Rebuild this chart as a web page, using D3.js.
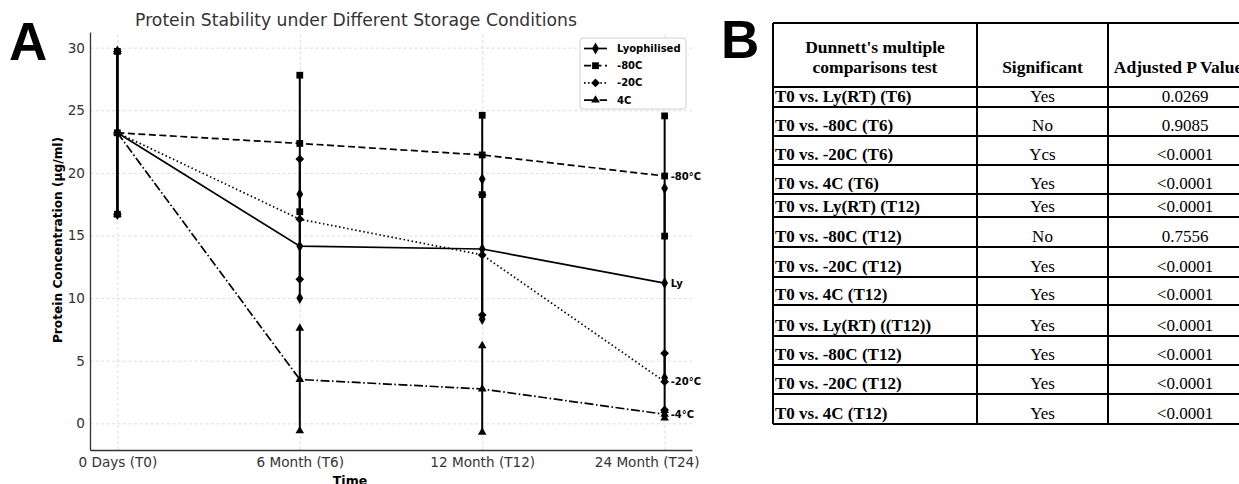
<!DOCTYPE html>
<html>
<head>
<meta charset="utf-8">
<script src="https://cdn.jsdelivr.net/npm/d3@7"></script>
<style>
  body { margin: 0; background: #fff; }
  svg { display: block; }
  .tick text { fill: #333; }
</style>
</head>
<body>
<script>
// panel A data
const timeLabels = ['0 Days (T0)', '6 Month (T6)', '12 Month (T12)', '24 Month (T24)'];
const timeIdx = [0, 1, 2, 3];
const yTicks = [0, 5, 10, 15, 20, 25, 30];

const seriesNames = ['Lyophilised', '-80C', '-20C', '4C'];
const endLabels = ['Ly', '-80°C', '-20°C', '-4°C'];
const lyoMean = [23.2, 14.15, 13.92, 11.2];
const lyoErr = [6.5, 4.15, 5.59, 7.57];
const m80Mean = [23.2, 22.35, 21.43, 19.75];
const m80Err = [6.5, 5.45, 3.17, 4.8];
const m20Mean = [23.2, 16.3, 13.45, 3.33];
const m20Err = [6.5, 4.8, 4.8, 2.26];
const c4Mean = [23.2, 3.5, 2.74, 0.72];
const c4Err = [6.5, 4.1, 3.45, 0.3];

// panel B data
const headCols = [["Dunnett's multiple", 'comparisons test'], ['Significant'], ['Adjusted P Value']];
const comparisons = ['T0 vs. Ly(RT) (T6)', 'T0 vs. -80C (T6)', 'T0 vs. -20C (T6)', 'T0 vs. 4C (T6)',
  'T0 vs. Ly(RT) (T12)', 'T0 vs. -80C (T12)', 'T0 vs. -20C (T12)', 'T0 vs. 4C (T12)',
  'T0 vs. Ly(RT) ((T12))', 'T0 vs. -80C (T12)', 'T0 vs. -20C (T12)', 'T0 vs. 4C (T12)'];
const significant = ['Yes', 'No', 'Ycs', 'Yes', 'Yes', 'No', 'Yes', 'Yes', 'Yes', 'Yes', 'Yes', 'Yes'];
const pValues = ['0.0269', '0.9085', '<0.0001', '<0.0001', '<0.0001', '0.7556', '<0.0001',
  '<0.0001', '<0.0001', '<0.0001', '<0.0001', '<0.0001'];

const W = 1239, H = 484;
const svg = d3.select('body').append('svg')
  .attr('width', W)
  .attr('height', H);

const sans = 'DejaVu Sans, Verdana, sans-serif';

// ---------- panel A ----------
const x = d3.scaleLinear().domain([-0.15, 3.15]).range([90, 692]);
const y = d3.scaleLinear().domain([-2.13, 31.25]).range([450, 32]);

const series = [
  { name: seriesNames[0], label: endLabels[0], mean: lyoMean, err: lyoErr, dash: null, sym: d3.symbolDiamond, size: 40, rot: 0 },
  { name: seriesNames[1], label: endLabels[1], mean: m80Mean, err: m80Err, dash: '7,3.5', sym: d3.symbolSquare, size: 46, rot: 0 },
  { name: seriesNames[2], label: endLabels[2], mean: m20Mean, err: m20Err, dash: '1.5,2.6', sym: d3.symbolSquare, size: 38, rot: 45 },
  { name: seriesNames[3], label: endLabels[3], mean: c4Mean, err: c4Err, dash: '9,2.5,1.6,2.5', sym: d3.symbolTriangle, size: 32, rot: 0 }
];

// grid
const grid = svg.append('g');
grid.append('g')
  .attr('transform', 'translate(90,0)')
  .call(d3.axisLeft(y).tickValues(yTicks).tickSize(-602).tickFormat(''))
  .call(g => g.select('.domain').remove());
grid.append('g')
  .attr('transform', 'translate(0,450)')
  .call(d3.axisBottom(x).tickValues(timeIdx).tickSize(-418).tickFormat(''))
  .call(g => g.select('.domain').remove());
grid.selectAll('line')
  .attr('stroke', '#d4d4d4')
  .attr('stroke-width', 0.8)
  .attr('stroke-dasharray', '3,2.5');

// axes
const yAxis = svg.append('g')
  .attr('transform', 'translate(90,0)')
  .call(d3.axisLeft(y).tickValues(yTicks).tickSize(0).tickSizeOuter(0).tickPadding(5));
const xAxis = svg.append('g')
  .attr('transform', 'translate(0,450)')
  .call(d3.axisBottom(x).tickValues(timeIdx).tickSize(0).tickSizeOuter(0).tickPadding(7)
    .tickFormat(i => timeLabels[i]));
[yAxis, xAxis].forEach(a => {
  a.select('.domain').attr('stroke', '#333').attr('stroke-width', 1.3);
  a.selectAll('text').attr('font-family', sans).attr('font-size', 13.6);
});
// last label was nudged left in the original figure
xAxis.selectAll('.tick text').filter(i => i === 3).attr('dx', -18);

svg.append('text')
  .attr('x', 356).attr('y', 26)
  .attr('text-anchor', 'middle')
  .attr('font-family', sans).attr('font-size', 17.2)
  .attr('fill', '#333')
  .text('Protein Stability under Different Storage Conditions');

svg.append('text')
  .attr('transform', 'translate(62,240) rotate(-90)')
  .attr('text-anchor', 'middle')
  .attr('font-family', sans).attr('font-size', 12.2).attr('font-weight', 'bold')
  .text('Protein Concentration (µg/ml)');

svg.append('text')
  .attr('x', 350).attr('y', 485)
  .attr('text-anchor', 'middle')
  .attr('font-family', sans).attr('font-size', 12.5).attr('font-weight', 'bold')
  .text('Time');

const plot = svg.append('g');

// error bars
series.forEach(s => {
  plot.append('g').selectAll('line')
    .data(timeIdx)
    .join('line')
    .attr('x1', i => x(i)).attr('x2', i => x(i))
    .attr('y1', i => y(s.mean[i] - s.err[i]))
    .attr('y2', i => y(s.mean[i] + s.err[i]))
    .attr('stroke', '#000').attr('stroke-width', 2);
});

// lines
const line = d3.line().x(i => x(i));
series.forEach(s => {
  plot.append('path')
    .attr('d', line.y(i => y(s.mean[i]))(timeIdx))
    .attr('fill', 'none')
    .attr('stroke', '#000')
    .attr('stroke-width', 1.7)
    .attr('stroke-dasharray', s.dash);
});

// markers: mean + error bar ends
series.forEach(s => {
  const pts = [];
  timeIdx.forEach(i => {
    pts.push([i, s.mean[i]]);
    pts.push([i, s.mean[i] - s.err[i]]);
    pts.push([i, s.mean[i] + s.err[i]]);
  });
  plot.append('g').selectAll('path')
    .data(pts)
    .join('path')
    .attr('d', d3.symbol(s.sym, s.size))
    .attr('transform', d => `translate(${x(d[0])},${y(d[1])}) rotate(${s.rot})`)
    .attr('fill', '#000');
});

// end labels
plot.append('g').selectAll('text')
  .data(series)
  .join('text')
  .attr('x', x(3) + 6)
  .attr('y', s => y(s.mean[3]))
  .attr('dy', '0.35em')
  .attr('font-family', sans).attr('font-size', 10).attr('font-weight', 'bold')
  .text(s => s.label);

// legend
const legend = svg.append('g').attr('transform', 'translate(580,38)');
legend.append('rect')
  .attr('width', 106).attr('height', 71)
  .attr('rx', 3)
  .attr('fill', '#fff').attr('fill-opacity', 0.85)
  .attr('stroke', '#d0d0d0').attr('stroke-width', 1);
const items = legend.selectAll('g.item')
  .data(series)
  .join('g')
  .attr('class', 'item')
  .attr('transform', (s, i) => `translate(0,${10.5 + i * 17.2})`);
items.append('line')
  .attr('x1', 4).attr('x2', 27)
  .attr('stroke', '#000').attr('stroke-width', 1.7)
  .attr('stroke-dasharray', s => s.dash);
items.append('path')
  .attr('d', s => d3.symbol(s.sym, s.size)())
  .attr('transform', s => `translate(15.5,0) rotate(${s.rot})`);
items.append('text')
  .attr('x', 37).attr('dy', '0.35em')
  .attr('font-family', sans).attr('font-size', 10).attr('font-weight', 'bold')
  .text(s => s.name);

// panel letters
svg.append('text')
  .attr('x', 9).attr('y', 60)
  .attr('font-family', 'Liberation Sans, Arial, sans-serif')
  .attr('font-size', 53).attr('font-weight', 'bold')
  .text('A');
svg.append('text')
  .attr('x', 721).attr('y', 58)
  .attr('font-family', 'Liberation Sans, Arial, sans-serif')
  .attr('font-size', 53).attr('font-weight', 'bold')
  .text('B');

// ---------- panel B ----------
const colX = [773, 977, 1108, 1262];
const headH = 64;
const rowH = [20, 29, 29, 29, 23, 30, 30, 28, 31, 29, 29, 30];
const tableTop = 23;
const rowEdges = [tableTop, tableTop + headH];
rowH.forEach(h => rowEdges.push(rowEdges[rowEdges.length - 1] + h));

const serif = 'Liberation Serif, Times New Roman, serif';
const tbl = svg.append('g');

const rows = comparisons.map((c, i) => [c, significant[i], pValues[i]]);
rows.forEach((r, i) => {
  const base = rowEdges[i + 2] - 5;
  tbl.append('text')
    .attr('x', colX[0] + 2).attr('y', base)
    .attr('font-family', serif).attr('font-size', 17).attr('font-weight', 'bold')
    .text(r[0]);
  tbl.append('text')
    .attr('x', (colX[1] + colX[2]) / 2).attr('y', base)
    .attr('text-anchor', 'middle')
    .attr('font-family', serif).attr('font-size', 17)
    .text(r[1]);
  tbl.append('text')
    .attr('x', 1185).attr('y', base)
    .attr('text-anchor', 'middle')
    .attr('font-family', serif).attr('font-size', 17)
    .text(r[2]);
});

const headCx = [(colX[0] + colX[1]) / 2, (colX[1] + colX[2]) / 2, 1178];
headCols.forEach((lines, c) => {
  lines.forEach((t, k) => {
    tbl.append('text')
      .attr('x', headCx[c])
      .attr('y', 73 - (lines.length - 1 - k) * 20)
      .attr('text-anchor', 'middle')
      .attr('font-family', serif).attr('font-size', 17.5).attr('font-weight', 'bold')
      .text(t);
  });
});

// table rules
tbl.append('g').selectAll('line')
  .data(rowEdges)
  .join('line')
  .attr('x1', colX[0]).attr('x2', colX[3])
  .attr('y1', d => d).attr('y2', d => d)
  .attr('stroke', '#000').attr('stroke-width', 2);
tbl.append('g').selectAll('line')
  .data(colX)
  .join('line')
  .attr('x1', d => d).attr('x2', d => d)
  .attr('y1', tableTop).attr('y2', rowEdges[rowEdges.length - 1])
  .attr('stroke', '#000').attr('stroke-width', 2);
</script>
</body>
</html>
